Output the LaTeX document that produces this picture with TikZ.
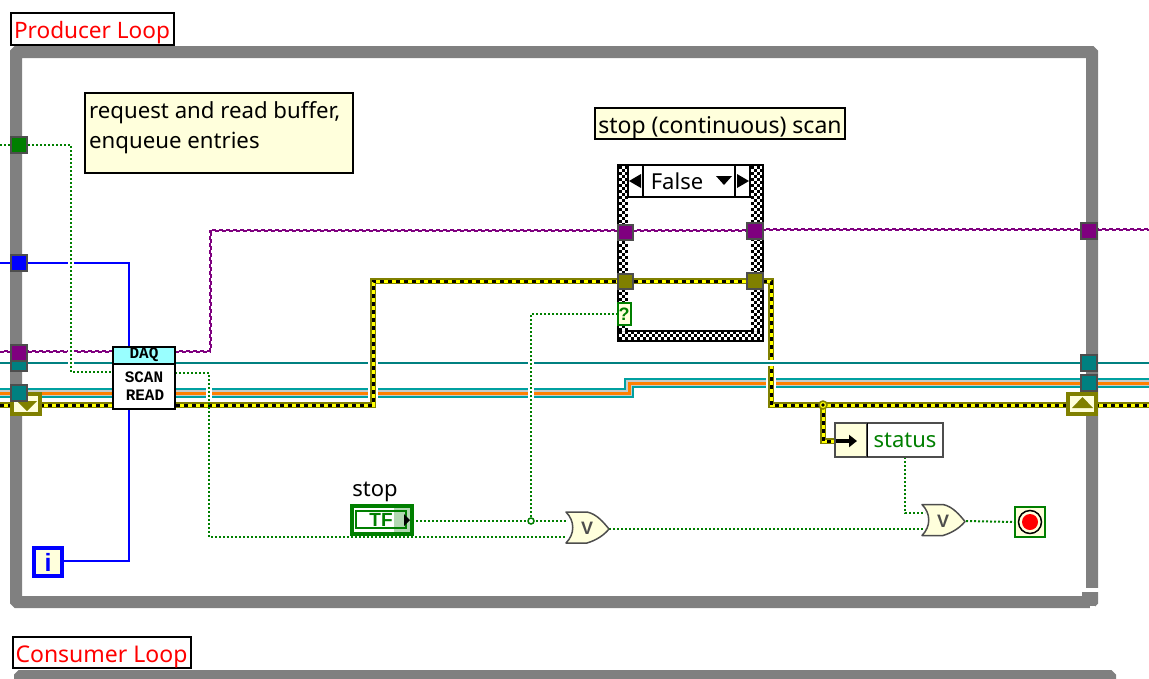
\documentclass[tikz,border=0pt]{standalone}
\usepackage{fontspec}
\setmainfont{Noto Sans}
\newfontfamily\blockfont{Liberation Mono}
\newfontfamily\heavyfont{Liberation Sans}
\usetikzlibrary{arrows.meta,calc}
\pgfdeclarelayer{frame}
\pgfdeclarelayer{wires}
\pgfsetlayers{frame,wires,main}
\definecolor{loopgray}{HTML}{808080}
\definecolor{tunframe}{HTML}{4D4D4D}
\definecolor{dkgreen}{HTML}{007F00}
\definecolor{wblue}{HTML}{0000FF}
\definecolor{wpurple}{HTML}{7F007F}
\definecolor{wteal}{HTML}{008080}
\definecolor{bteal}{HTML}{00A0A0}
\definecolor{bgray}{HTML}{C4CCCC}
\definecolor{borange}{HTML}{FF8000}
\definecolor{wolive}{HTML}{808000}
\definecolor{wyellow}{HTML}{FFFF00}
\definecolor{note}{HTML}{FFFFDC}
\definecolor{daqcyan}{HTML}{99FFFF}
\tikzset{
  x=1pt,y=-1pt,
  labeltxt/.style={font=\fontsize{22}{30}\selectfont},
  boxed/.style={draw=black,line width=2,inner sep=0,outer sep=0},
  redlabel/.style={boxed,fill=white},
  redtxt/.style={text=red,inner sep=0},
  notebox/.style={boxed,fill=note},
  tunnel/.style={draw=tunframe,line width=2,minimum size=16,inner sep=0,outer sep=0},
  shiftreg/.style={draw=wolive,fill=note,line width=4,minimum width=28,minimum height=20,inner sep=0,outer sep=0},
  greenwire/.style={draw=dkgreen,line width=2,dash pattern=on 2 off 2},
  bluewire/.style={draw=wblue,line width=2},
  tealwire/.style={draw=wteal,line width=2},
  purplewire/.style={draw=none,
    preaction={draw=wpurple,line width=2,dash pattern=on 4 off 3},
    preaction={draw=wpurple,line width=2,dash pattern=on 4 off 3,dash phase=4,
      transform canvas={shift={(1pt,1pt)}}}},
  bundlewire/.style={draw=bteal,line width=10,
    postaction={draw=bgray,line width=6.5},
    postaction={draw=borange,line width=3}},
  errorwire/.style={draw=wolive,line width=6,
    postaction={draw=wyellow,line width=3},
    postaction={draw=black,line width=3,dash pattern=on 4 off 4}},
  gapcut/.style={draw=white,line width=6},
  widegap/.style={draw=white,line width=10},
  checks/.style={draw=black,line width=3,dash pattern=on 3 off 3},
  gatebody/.style={draw=tunframe,fill=note,line width=1.5,line join=round},
  gatemark/.style={text=tunframe,inner sep=0,font=\heavyfont\fontsize{18}{18}\selectfont\bfseries},
  blocktxt/.style={inner sep=0,font=\blockfont\fontsize{16}{16}\selectfont\bfseries},
}
% OR primitive: body outline plus a named mark at its centre
\newcommand{\orgate}[3]{%
  \begin{scope}[shift={(#2,#3)}]
    \draw[gatebody] (0,0) -- (21,0) .. controls (31,2) and (38,11) .. (43,17)
      .. controls (38,23) and (31,28) .. (21,31) -- (0,31)
      .. controls (9,22) and (9,9) .. (0,0) -- cycle;
  \end{scope}
  \node[gatemark] (#1) at (#2+21,#3+16.5) {V};
}
\begin{document}
\begin{tikzpicture}
\useasboundingbox (0,0) rectangle (1149,678);
\begin{pgfonlayer}{frame}
  \fill[white] (0,0) rectangle (1149,678);
  % while-loop borders
  \draw[loopgray,line width=12,rounded corners=1] (16,52) rectangle (1092,602);
  \fill[white] (1086,588) rectangle (1099,592);
  \fill[loopgray] (1082,592) rectangle (1086,597);
  \fill[white] (1090,606) rectangle (1095,609);
  \draw[loopgray,line width=12,rounded corners=1] (20,700) -- (20,676) -- (1110,676) -- (1110,700);
\end{pgfonlayer}

% free wire ends at the picture edges
\coordinate (gL) at (0,145);
\coordinate (bL) at (0,263);
\coordinate (pL) at (0,352);
\coordinate (tL) at (0,363);
\coordinate (cL) at (0,393);
\coordinate (eL) at (0,405);
\coordinate (pR) at (1149,230);
\coordinate (tR) at (1149,363);
\coordinate (cR) at (1149,383);
\coordinate (eR) at (1149,405);

% labels and comments
\node[redlabel,minimum width=163,minimum height=32] (prod) at (92.5,29) {};
\node[redtxt,font=\fontsize{22.6}{30}\selectfont] (prodt) at (92,32.5) {Producer Loop};
\node[redlabel,minimum width=178,minimum height=31] (cons) at (102,652.5) {};
\node[redtxt,font=\fontsize{23}{30}\selectfont] (const) at (101.5,656.5) {Consumer Loop};
\node[notebox,minimum width=268,minimum height=80] (cmt) at (219,133) {};
\node[labeltxt,align=left,inner sep=0,anchor=west,font=\fontsize{22.2}{30}\selectfont] (cmtt) at (89,128) {request and read buffer,\\enqueue entries};
\node[notebox,minimum width=250,minimum height=31] (scanlbl) at (720,123.5) {};
\node[inner sep=0,font=\fontsize{23}{30}\selectfont] (scant) at (720,127.5) {stop (continuous) scan};

% case structure with its hatched border
\node[draw=black,line width=2,minimum width=145,minimum height=176,inner sep=0,outer sep=0] (case) at (690.5,253) {};
\fill[white] (619,166) rectangle (628,340);
\fill[white] (751,166) rectangle (762,340);
\fill[white] (619,330) rectangle (762,340);
\foreach \cx/\ph in {620.5/0,623.5/3,626.5/0,752.5/0,755.5/3,758.5/0,761/3}
  \draw[checks,dash phase=\ph] (\cx,166) -- (\cx,331);
\foreach \cy/\ph in {332/0,335/3,338.5/0}
  \draw[checks,dash phase=\ph] (619,\cy) -- (762,\cy);
\draw[black,line width=2] (628,331) -- (751,331);
\draw[black,line width=2] (617,165) -- (763,165);
\draw[black,line width=2] (618,341) -- (763,341);
\node[draw=black,fill=white,line width=2,minimum width=122,minimum height=32,inner sep=0,outer sep=0] (sel) at (689,181) {};
\node[draw=black,fill=white,line width=2,minimum width=92,minimum height=32,inner sep=0,outer sep=0,labeltxt] (selval) at (689,181) {\hspace{-24pt}False};
\fill[black] (629,181) -- (641,174) -- (641,188) -- cycle;
\fill[black] (749,181) -- (737,174) -- (737,188) -- cycle;
\fill[black] (716,176) -- (732,176) -- (724,185) -- cycle;

% case terminals
\node[tunnel,fill=wpurple,minimum size=15] (cpl) at (625.5,232.5) {};
\node[tunnel,fill=wpurple] (cpr) at (755,231) {};
\node[tunnel,fill=wolive,minimum size=15] (cel) at (625.5,281) {};
\node[tunnel,fill=wolive] (cer) at (755,281) {};
\node[draw=dkgreen,fill=note,line width=2,minimum width=13,minimum height=22,inner sep=0,outer sep=0,text=dkgreen,font=\heavyfont\fontsize{18}{18}\selectfont\bfseries] (csel) at (624,314) {?};

% loop tunnels and shift registers
\node[tunnel,fill=dkgreen] (tg) at (19,145) {};
\node[tunnel,fill=wblue] (tb) at (19,263) {};
\node[tunnel,fill=wteal] (ttl) at (19,363) {};
\node[tunnel,fill=wpurple] (tpl) at (19,353) {};
\node[shiftreg] (srl) at (26,404) {};
\fill[wolive] (17,401) -- (37,401) -- (27,411) -- cycle;
\node[tunnel,fill=wteal] (tcl) at (19,393) {};
\node[tunnel,fill=wpurple] (tpr) at (1089,231) {};
\node[tunnel,fill=wteal] (ttr) at (1089,363) {};
\node[tunnel,fill=wteal] (tcr) at (1089,383) {};
\node[shiftreg] (srr) at (1082,404) {};
\fill[wolive] (1072,408) -- (1093,408) -- (1082.5,397) -- cycle;

% DAQ block
\node[draw=black,fill=white,line width=2,minimum width=62,minimum height=62,inner sep=0,outer sep=0] (daq) at (144,378) {};
\node[draw=black,fill=daqcyan,line width=2,minimum width=62,minimum height=17,inner sep=0,outer sep=0] (daqh) at (144,355) {};
\node[blocktxt] (daqt) at (144,355) {DAQ};
\node[blocktxt] (scan) at (144,377) {SCAN};
\node[blocktxt] (read) at (145,395) {READ};

% iteration terminal
\node[draw=wblue,fill=note,line width=4,minimum size=28,inner sep=0,outer sep=0,text=wblue,font=\heavyfont\fontsize{25}{25}\selectfont\bfseries] (iter) at (48,562) {i};

% stop control
\node[draw=dkgreen,fill=white,line width=4,minimum width=60,minimum height=28,inner sep=0,outer sep=0] (stopc) at (382,520) {};
\node[draw=dkgreen,line width=2,minimum width=50,minimum height=17,inner sep=0,outer sep=0,text=dkgreen,font=\heavyfont\fontsize{19}{15}\selectfont\bfseries] (stopi) at (381,519.5) {TF\hspace{5pt}};
\fill[dkgreen,opacity=.3] (394,506) rectangle (414,534);
\fill[black] (404,514) -- (410,520) -- (404,526) -- cycle;
\node[labeltxt,inner sep=0,anchor=base] (stopl) at (375,496) {stop};

% logic gates and stop terminal
\orgate{ora}{566}{512}
\orgate{orb}{922}{504.5}
\node[draw=dkgreen,fill=note,line width=2,minimum size=30,inner sep=0,outer sep=0] (cond) at (1030,522) {};
\draw[black,line width=1.5] (cond.center) circle (11.5);
\fill[red] (cond.center) circle (8);

% unbundle by name
\node[draw=tunframe,fill=note,line width=2,minimum width=33,minimum height=34,inner sep=0,outer sep=0] (ubl) at (851,440) {};
\node[draw=tunframe,fill=white,line width=2,minimum width=76,minimum height=34,inner sep=0,outer sep=0,labeltxt,text=dkgreen] (ubr) at (905,440) {status};
\draw[black,line width=1.5] (867.5,423) -- (867.5,457);
\draw[black,line width=4,-{Triangle[length=8,width=12]}] (836,441) -- (857,441);

\begin{pgfonlayer}{wires}
  % plain data wires
  \draw[bluewire] (bL) -- (tb.center) -- (129,263) -- (129,561) -- (iter.east |- 0,561);
  \draw[purplewire] (pL) -- (daq.west |- pL);
  \draw[purplewire] (daq.east |- pL) -- (210,352) -- (210,231) -- (cpl.center |- 0,231);
  \draw[purplewire] (cpl.center |- 0,231) -- (cpr.center |- 0,231);
  \draw[purplewire] (cpr.center |- pR) -- (pR);
  \draw[tealwire] (tL) -- (tR);
  \draw[bundlewire] (cL) -- (629,393) -- (629,383) -- (cR);
  % wire gaps under crossings
  \draw[gapcut] (71,255) -- (71,370);
  \draw[gapcut] (209,380) -- (209,412);
  \draw[gapcut] (531,356) -- (531,400);
  \draw[widegap] (373,356) -- (373,400);
  \draw[widegap] (771,376) -- (771,390);
  % error cluster
  \draw[errorwire] (eL) -- (373,405) -- (373,281) -- (cel.center);
  \draw[errorwire] (cel.center) -- (cer.center);
  \draw[errorwire] (cer.center) -- (771,281) -- (771,405) -- (eR);
  \draw[errorwire] (823,405) -- (823,441) -- (ubl.west |- 0,441);
  \draw[gapcut] (765,363) -- (777,363);
  \draw[tealwire] (764,363) -- (778,363);
  % boolean wires
  \draw[greenwire] (gL) -- (71,145) -- (71,372) -- (daq.west |- 0,372);
  \draw[greenwire] (daq.east |- 0,373) -- (209,373) -- (209,537) -- (566,537);
  \draw[greenwire] (stopc.east |- 0,521) -- (566,521);
  \draw[greenwire] (531,521) -- (531,314) -- (csel.west);
  \draw[greenwire] (609,529) -- (925,529);
  \draw[greenwire] (ubr.south) -- (ubr.south |- 0,513) -- (925,513);
  \draw[greenwire] (966,521) -- (cond.west);
  \draw[draw=wolive,fill=wyellow,line width=1.5] (823,405) circle (4);
  \fill[black] (823,405) circle (1.8);
  \draw[draw=dkgreen,fill=white,line width=1.5] (531,521) circle (3);
\end{pgfonlayer}
\end{tikzpicture}
\end{document}
